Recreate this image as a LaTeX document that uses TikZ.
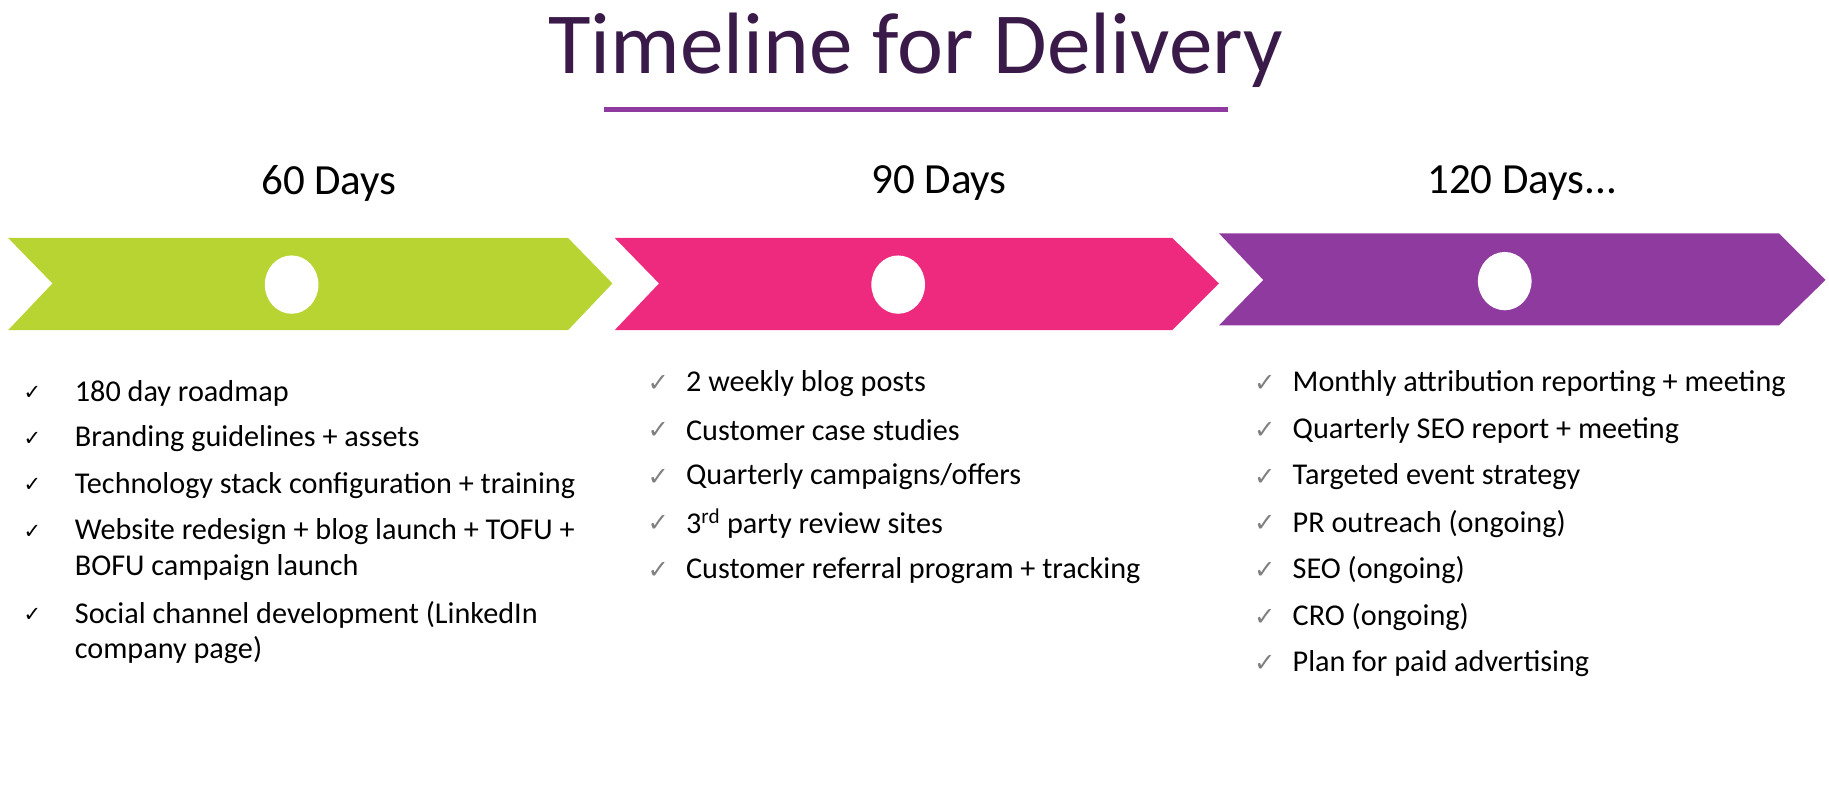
\documentclass[tikz,border=0pt]{standalone}
\usetikzlibrary{shapes.geometric}
\usepackage{fontspec}
\setmainfont{Carlito}
\newfontfamily\symf{DejaVu Sans}
\definecolor{cgreen}{HTML}{B8D432}
\definecolor{cpink}{HTML}{EE2A7E}
\definecolor{cpurple}{HTML}{8E3A9E}
\definecolor{ctitle}{HTML}{3A1A48}
\begin{document}
\begin{tikzpicture}[x=1bp,y=-1bp,
  item/.style={anchor=west,inner sep=0pt,font=\fontsize{26}{30}\selectfont,text=black},
  hdr/.style={font=\fontsize{37}{42}\selectfont},
  dot/.style={ellipse,fill=white,minimum width=46bp,minimum height=50bp,inner sep=0pt,draw=none}]
\useasboundingbox (0,0) rectangle (1568,684);
\node[font=\fontsize{75}{84}\selectfont,text=ctitle] (title) at (785,43) {Timeline for Delivery};
\draw[cpurple,line width=4bp] (518,94) -- (1053,94);
\node[hdr] (h1) at (282,157) {60 Days};
\node[hdr] (h2) at (805,157) {90 Days};
\node[hdr] (h3) at (1305,157) {120 Days...};
\fill[cgreen] (7,204) -- (487,204) -- (525,243) -- (487,283) -- (7,283) -- (45,243) -- cycle;
\fill[cpink] (527,204) -- (1005,204) -- (1045,243) -- (1005,283) -- (527,283) -- (565,243) -- cycle;
\fill[cpurple] (1045,200) -- (1525,200) -- (1565,240) -- (1525,279) -- (1045,279) -- (1083,240) -- cycle;
\node[dot] (d1) at (250,244) {};
\node[dot] (d2) at (770,244) {};
\node[dot] (d3) at (1290,241) {};
% column 1
\foreach \y/\t [count=\i] in {337/180 day roadmap,376/Branding guidelines + assets,416/Technology stack configuration + training,456/Website redesign + blog launch + TOFU +,527/Social channel development (LinkedIn}{
  \node[item] (a\i) at (64,\y) {\t};
  \node[item,font=\symf\fontsize{18}{20}\selectfont] (ac\i) at (20,\y) {✓};
}
\node[item] (a6) at (64,487) {BOFU campaign launch};
\node[item] (a7) at (64,557) {company page)};
% column 2
\foreach \y/\t [count=\i] in {329/2 weekly blog posts,369/Customer case studies,409/{Quarterly campaigns/offers},449/3\textsuperscript{rd} party review sites,489/Customer referral program + tracking}{
  \node[item] (b\i) at (588,\y) {\t};
  \node[item,text=gray,font=\symf\fontsize{22}{24}\selectfont] (bc\i) at (555,\y) {✓};
}
% column 3
\foreach \y/\t [count=\i] in {329/Monthly attribution reporting + meeting,369/Quarterly SEO report + meeting,409/Targeted event strategy,449/PR outreach (ongoing),489/SEO (ongoing),529/CRO (ongoing),569/Plan for paid advertising}{
  \node[item] (c\i) at (1108,\y) {\t};
  \node[item,text=gray,font=\symf\fontsize{22}{24}\selectfont] (cc\i) at (1075,\y) {✓};
}
\end{tikzpicture}
\end{document}
